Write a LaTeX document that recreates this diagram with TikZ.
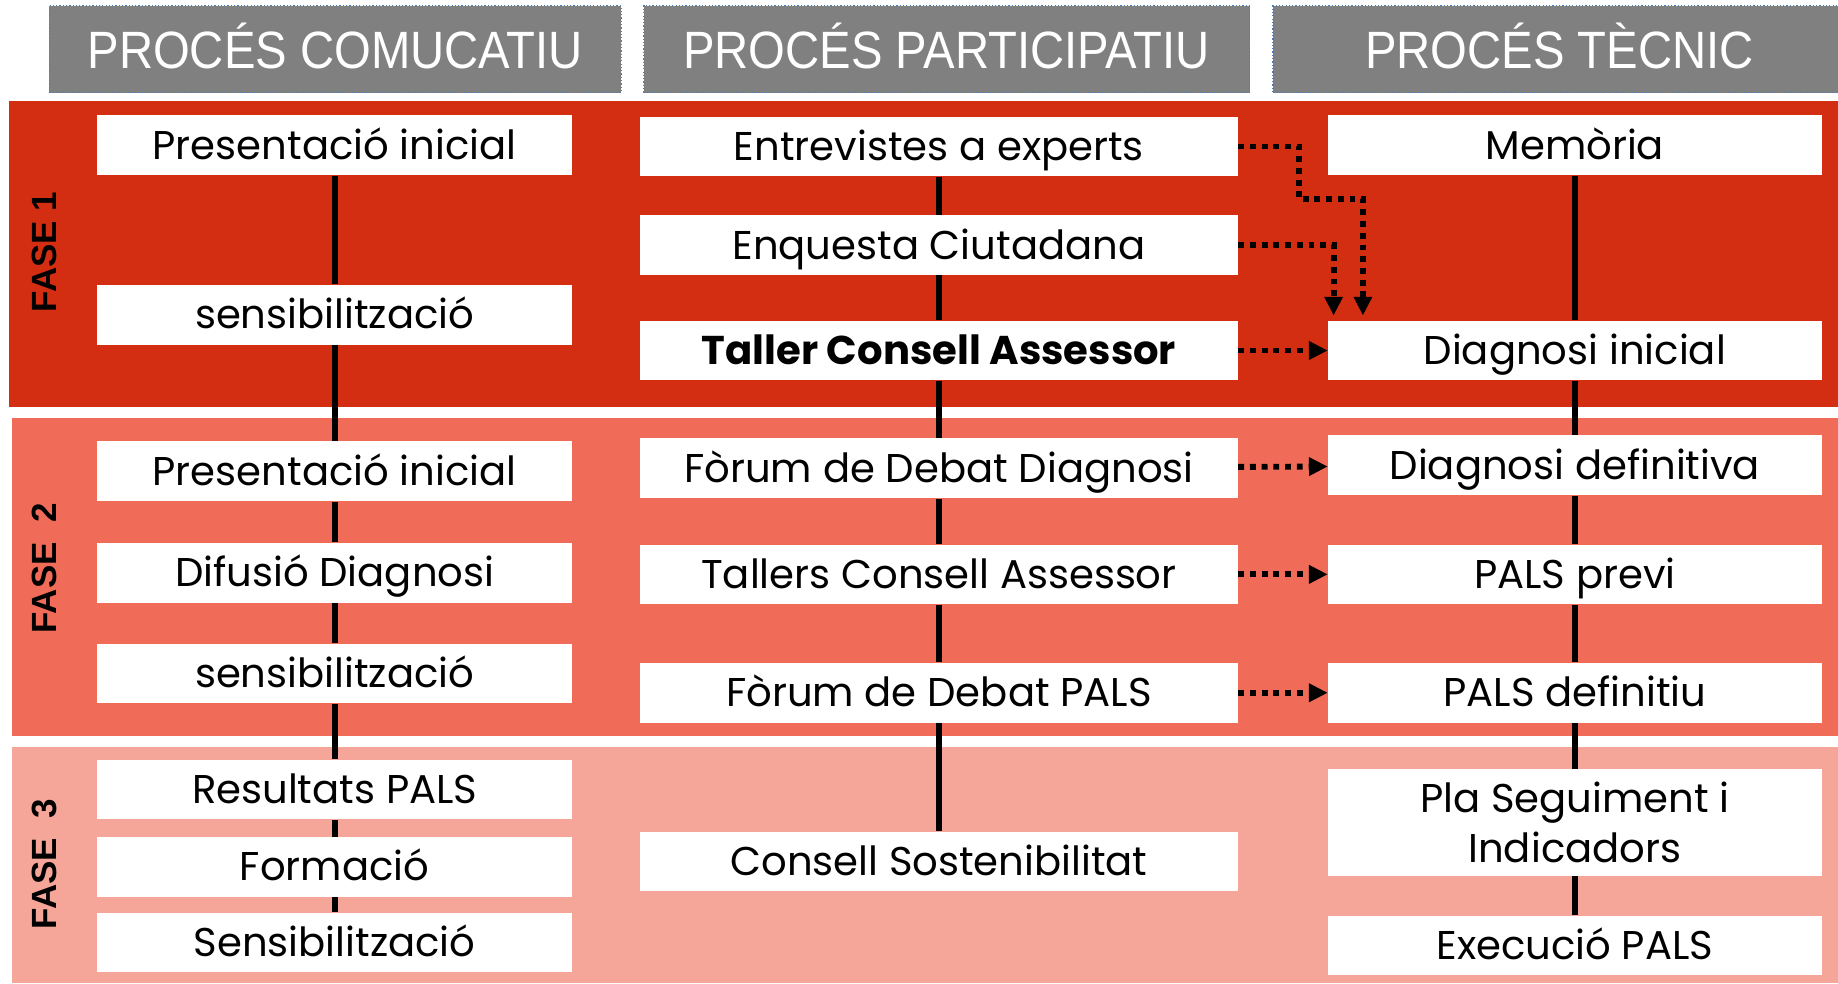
\documentclass[tikz,border=0pt]{standalone}
\usepackage{fontspec}
\setmainfont{Poppins}
\newfontfamily\headfont{Liberation Sans}[FakeStretch=0.9]
\newfontfamily\fasefont{Liberation Sans}
\usetikzlibrary{arrows.meta}

\definecolor{faseA}{RGB}{211,46,18}
\definecolor{faseB}{RGB}{241,108,88}
\definecolor{faseC}{RGB}{246,166,152}
\definecolor{capgray}{RGB}{128,128,128}
\definecolor{capline}{RGB}{74,126,187}

\tikzset{
  caixa/.style={fill=white, minimum height=1.02cm, inner sep=0pt, align=center,
    text height=13.6pt, text depth=0pt, font=\fontsize{19.5}{24}\selectfont},
  comu/.style={caixa, minimum width=8.1cm},
  parti/.style={caixa, minimum width=10.2cm},
  tecnic/.style={caixa, minimum width=8.42cm},
  capcalera/.style={fill=capgray, draw=capline, densely dotted, line width=0.6pt,
    text=white, minimum height=1.48cm, inner sep=0pt,
    text height=18.3pt, text depth=0pt,
    font=\headfont\fontsize{25.5}{29}\selectfont},
  fase/.style={rotate=90, font=\fasefont\bfseries\fontsize{17}{20}\selectfont},
  eix/.style={line width=0.1cm},
  flux/.style={line width=0.1cm, dash pattern=on 0.1cm off 0.1cm,
    -{Triangle[length=0.32cm,width=0.3cm]}}
}

\begin{document}
\begin{tikzpicture}[x=0.02cm,y=-0.02cm]
\useasboundingbox (0,0) rectangle (1568,839);

% Phase bands
\fill[faseA] (8,86) rectangle (1568,347);
\fill[faseB] (10,357) rectangle (1568,628);
\fill[faseC] (10,637) rectangle (1568,839);

% Column headers
\node[capcalera, minimum width=9.76cm] (hcomu) at (286,42) {PROCÉS COMUCATIU};
\node[capcalera, minimum width=10.34cm] (hparti) at (807.5,42) {PROCÉS PARTICIPATIU};
\node[capcalera, minimum width=9.78cm] (htecnic) at (1330.5,42) {PROCÉS TÈCNIC};

% Phase labels
\node[fase] (f1) at (38,215) {FASE 1};
\node[fase] (f2) at (38,485) {FASE\ \ 2};
\node[fase] (f3) at (38,737) {FASE\ \ 3};

% Comunicatiu
\node[comu] (c1a) at (285.5,124) {Presentació inicial};
\node[comu] (c1b) at (285.5,268.5) {sensibilització};
\node[comu] (c1c) at (285.5,402) {Presentació inicial};
\node[comu] (c1d) at (285.5,488.5) {Difusió Diagnosi};
\node[comu] (c1e) at (285.5,574.5) {sensibilització};
\node[comu] (c1f) at (285.5,673.5) {Resultats PALS};
\node[comu] (c1g) at (285.5,739.5) {Formació};
\node[comu] (c1h) at (285.5,804) {Sensibilització};

% Participatiu
\node[parti] (c2a) at (801,125) {Entrevistes a experts};
\node[parti] (c2b) at (801,209) {Enquesta Ciutadana};
\node[parti, font=\bfseries\fontsize{19.5}{24}\selectfont] (c2c) at (801,299) {Taller Consell Assessor};
\node[parti] (c2d) at (801,399.5) {Fòrum de Debat Diagnosi};
\node[parti] (c2e) at (801,490) {Tallers Consell Assessor};
\node[parti] (c2f) at (801,591) {Fòrum de Debat PALS};
\node[parti] (c2g) at (801,735) {Consell Sostenibilitat};

% Tecnic
\node[tecnic] (c3a) at (1343.5,124) {Memòria};
\node[tecnic] (c3b) at (1343.5,299) {Diagnosi inicial};
\node[tecnic] (c3c) at (1343.5,397) {Diagnosi definitiva};
\node[tecnic] (c3d) at (1343.5,490) {PALS previ};
\node[tecnic] (c3e) at (1343.5,591) {PALS definitiu};
\node[tecnic, minimum height=1.82cm, text height=, text depth=] (c3f) at (1343.5,701.5) {Pla Seguiment i\\Indicadors};
\node[tecnic] (c3g) at (1343.5,806.5) {Execució PALS};

% Vertical axes
\foreach \a/\b in {c1a/c1b,c1b/c1c,c1c/c1d,c1d/c1e,c1e/c1f,c1f/c1g,c1g/c1h,
                   c2a/c2b,c2b/c2c,c2c/c2d,c2d/c2e,c2e/c2f,c2f/c2g,
                   c3a/c3b,c3b/c3c,c3c/c3d,c3d/c3e,c3e/c3f,c3f/c3g}
  \draw[eix] (\a.south) -- (\b.north);

% Dotted flows
\coordinate (gir) at (1108,170);
\draw[flux] (c2a.east) -| (gir) -| ([xshift=0.6cm,yshift=0.08cm]c3b.north west);
\draw[flux] (c2b.east) -| ([xshift=0.1cm,yshift=0.08cm]c3b.north west);
\draw[flux] (c2c) -- (c3b);
\draw[flux] (c2d) -- (c3c);
\draw[flux] (c2e) -- (c3d);
\draw[flux] (c2f) -- (c3e);
\end{tikzpicture}
\end{document}
